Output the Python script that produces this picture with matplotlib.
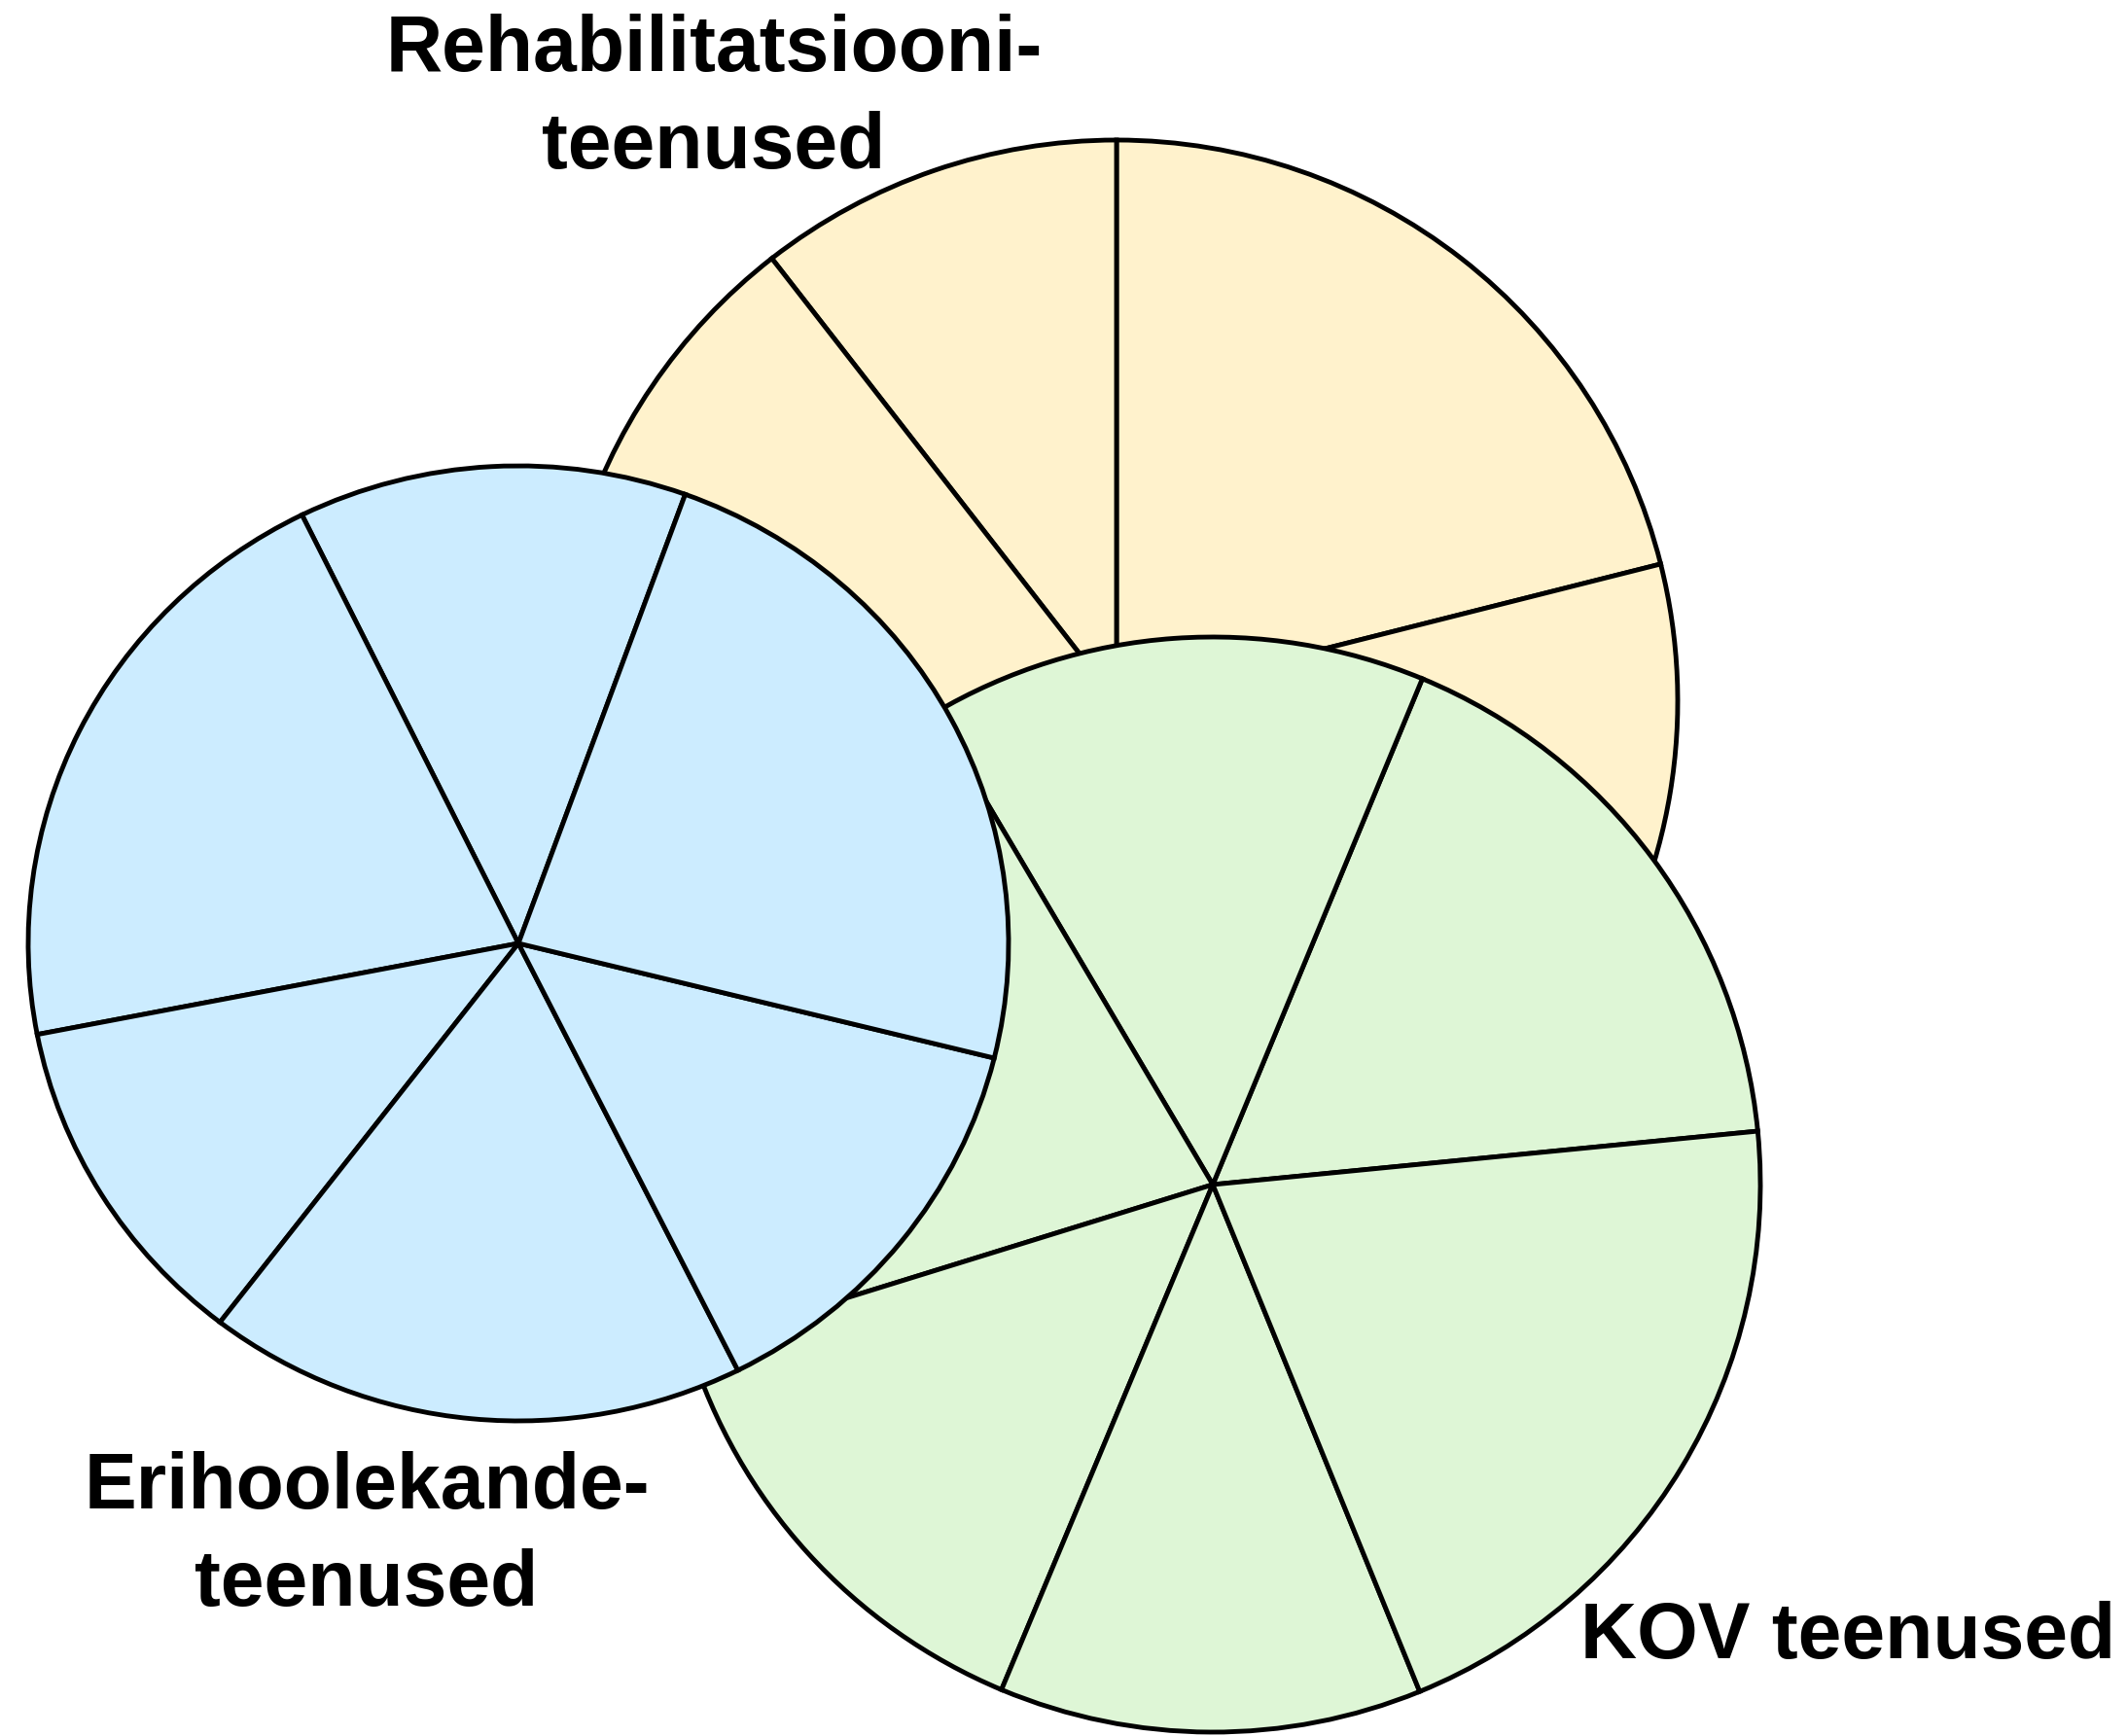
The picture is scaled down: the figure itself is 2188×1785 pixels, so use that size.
import matplotlib
matplotlib.use('Agg')
import matplotlib.pyplot as plt

# slice sizes in degrees (counter-clockwise from start angle)
rehab_slices = [75.85, 37.9, 72.0, 80.0, 94.25]
rehab_start = 14.15
kov_slices = [61.9, 53.1, 76.6, 50.1, 44.9, 73.4]
kov_start = 5.6
eri_slices = [46.1, 74.8, 41.5, 64.1, 49.5, 84.0]
eri_start = 70.1

labels = ['Rehabilitatsiooni-\nteenused', 'Erihoolekande-\nteenused', 'KOV teenused']

W, H = 2188, 1785
YELLOW = '#FFF2CC'
GREEN = '#DEF6D6'
BLUE = '#CCECFF'

fig = plt.figure(figsize=(W / 100, H / 100), dpi=100)
ax = fig.add_axes([0, 0, 1, 1])

wp = dict(edgecolor='black', linewidth=3.5)

# drawing order: yellow at the back, green, then blue on top
ax.pie(rehab_slices, startangle=rehab_start, center=(1148, H - 721), radius=577,
       colors=[YELLOW] * len(rehab_slices), wedgeprops=wp)
ax.pie(kov_slices, startangle=kov_start, center=(1247, H - 1218), radius=563,
       colors=[GREEN] * len(kov_slices), wedgeprops=wp)

ax.set_xlim(0, W)
ax.set_ylim(0, H)
ax.set_aspect('equal')
ax.axis('off')

# the blue pie is slightly wider than tall, so it gets its own axes
bx0, bx1, by0, by1 = 29, 1037, 479, 1461
ax_b = fig.add_axes([bx0 / W, 1 - by1 / H, (bx1 - bx0) / W, (by1 - by0) / H])
ax_b.pie(eri_slices, startangle=eri_start, radius=1,
         colors=[BLUE] * len(eri_slices), wedgeprops=wp)
ax_b.set_xlim(-1, 1)
ax_b.set_ylim(-1, 1)
ax_b.set_aspect('auto')
ax_b.axis('off')

font = dict(family='Liberation Sans', weight='bold', fontsize=58, linespacing=1.4)
ax.text(734, H - 102, labels[0], ha='center', va='center', **font)
ax.text(377, H - 1580, labels[1], ha='center', va='center', **font)
ax.text(1900, H - 1684, labels[2], ha='center', va='center', **font)

fig.savefig('out.png', dpi=100, facecolor='white')
